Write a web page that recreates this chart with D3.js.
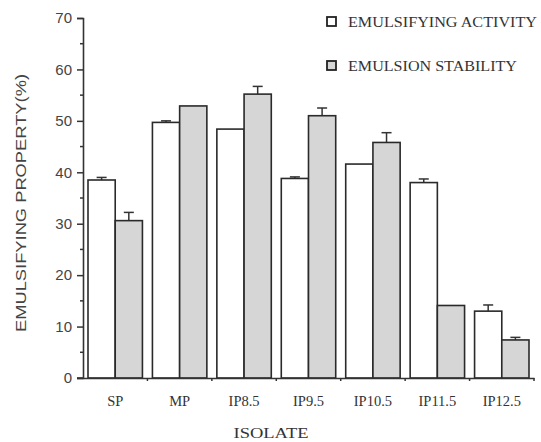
<!DOCTYPE html>
<html>
<head>
<meta charset="utf-8">
<script src="https://cdn.jsdelivr.net/npm/d3@7"></script>
<style>
  body { margin: 0; background: #fff; }
  svg { display: block; }
</style>
</head>
<body>
<svg width="541" height="442"></svg>
<script>
const categories = ["SP", "MP", "IP8.5", "IP9.5", "IP10.5", "IP11.5", "IP12.5"]
const seriesNames = ["EMULSIFYING ACTIVITY", "EMULSION STABILITY"]
const activity = [38.5, 49.7, 48.4, 38.8, 41.6, 38.0, 13.0]
const activityErr = [0.5, 0.3, 0, 0.3, 0, 0.7, 1.2]
const stability = [30.6, 52.9, 55.2, 51.0, 45.8, 14.1, 7.4]
const stabilityErr = [1.6, 0, 1.5, 1.5, 1.9, 0, 0.5]
const yTicks = [0, 10, 20, 30, 40, 50, 60, 70]

const svg = d3.select("svg")
const margin = {top:18, right:7, bottom:64, left:83}
const width = +svg.attr("width") - margin.left - margin.right
const height = +svg.attr("height") - margin.top - margin.bottom

const chart = svg.append("g")
    .attr("transform", `translate(${margin.left},${margin.top})`)

const y = d3.scaleLinear().domain([0,70]).range([height,0])
const x0 = d3.scaleBand().domain(categories).range([0,width]).padding(0)
const x1 = d3.scaleBand().domain(seriesNames).range([5, x0.bandwidth()-5]).padding(0)

const fills = {"EMULSIFYING ACTIVITY":"#ffffff", "EMULSION STABILITY":"#d6d6d6"}

const rows = []
categories.forEach((c,i)=>{
    rows.push({cat:c, s:seriesNames[0], v:activity[i], e:activityErr[i]})
    rows.push({cat:c, s:seriesNames[1], v:stability[i], e:stabilityErr[i]})
})

// error bars (drawn first so bar outline sits on top)
const err = chart.selectAll(".err").data(rows.filter(d=>d.e>0)).enter().append("g")
    .attr("class","err")
    .attr("stroke","#333")
    .attr("stroke-width",1.5)
err.append("line")
    .attr("x1", d=>x0(d.cat)+x1(d.s)+x1.bandwidth()/2)
    .attr("x2", d=>x0(d.cat)+x1(d.s)+x1.bandwidth()/2)
    .attr("y1", d=>y(d.v))
    .attr("y2", d=>y(d.v+d.e))
err.append("line")
    .attr("x1", d=>x0(d.cat)+x1(d.s)+x1.bandwidth()/2-5)
    .attr("x2", d=>x0(d.cat)+x1(d.s)+x1.bandwidth()/2+5)
    .attr("y1", d=>y(d.v+d.e))
    .attr("y2", d=>y(d.v+d.e))

chart.selectAll(".bar").data(rows).enter().append("rect")
    .attr("class","bar")
    .attr("x", d=>x0(d.cat)+x1(d.s))
    .attr("y", d=>y(d.v))
    .attr("width", x1.bandwidth())
    .attr("height", d=>height-y(d.v))
    .attr("fill", d=>fills[d.s])
    .attr("stroke","#2a2a2a")
    .attr("stroke-width",1.6)

// y axis
const yAxis = chart.append("g")
    .call(d3.axisLeft(y).tickValues(yTicks).tickSize(6).tickPadding(5))
yAxis.select(".domain").attr("stroke","#333").attr("stroke-width",1.6)
yAxis.selectAll(".tick line").attr("stroke","#333").attr("stroke-width",1.5)
yAxis.selectAll("text")
    .attr("fill","#444")
    .style("font-family","Liberation Sans, Arial, sans-serif")
    .style("font-size","15px")
yAxis.selectAll(".minor").data(d3.range(5,70,10)).enter().append("line")
    .attr("class","minor")
    .attr("x1",-3).attr("x2",0)
    .attr("y1",d=>y(d)).attr("y2",d=>y(d))
    .attr("stroke","#333").attr("stroke-width",1.5)

// x axis
const xAxis = chart.append("g")
    .attr("transform",`translate(0,${height})`)
    .call(d3.axisBottom(x0).tickSize(0).tickPadding(18))
xAxis.select(".domain").attr("stroke","#333").attr("stroke-width",1.6)
xAxis.selectAll("text")
    .attr("fill","#333")
    .style("font-family","Liberation Serif, Times New Roman, serif")
    .style("font-size","14.5px")
xAxis.selectAll(".sep").data(categories).enter().append("line")
    .attr("class","sep")
    .attr("x1",d=>x0(d)+x0.bandwidth()).attr("x2",d=>x0(d)+x0.bandwidth())
    .attr("y1",0).attr("y2",3)
    .attr("stroke","#333").attr("stroke-width",1.5)
chart.append("line")
    .attr("x1",-6).attr("x2",0)
    .attr("y1",height).attr("y2",height)
    .attr("stroke","#333").attr("stroke-width",1.6)

// axis titles
svg.append("text")
    .attr("transform","translate(26,203) rotate(-90)")
    .attr("text-anchor","middle")
    .attr("fill","#444")
    .attr("textLength",258)
    .attr("lengthAdjust","spacingAndGlyphs")
    .style("font-family","Liberation Sans, Arial, sans-serif")
    .style("font-size","15px")
    .text("EMULSIFYING PROPERTY(%)")
svg.append("text")
    .attr("x",271).attr("y",438)
    .attr("text-anchor","middle")
    .attr("fill","#333")
    .attr("textLength",75)
    .attr("lengthAdjust","spacingAndGlyphs")
    .style("font-family","Liberation Serif, Times New Roman, serif")
    .style("font-size","15px")
    .text("ISOLATE")

// legend
const legendLen = [189, 169]
const legend = svg.append("g").attr("transform","translate(327,17)")
const items = legend.selectAll(".item").data(seriesNames).enter().append("g")
    .attr("class","item")
    .attr("transform",(d,i)=>`translate(0,${i*44})`)
items.append("rect")
    .attr("width",9).attr("height",9)
    .attr("fill",d=>fills[d])
    .attr("stroke","#222").attr("stroke-width",1.8)
items.append("text")
    .attr("x",21).attr("y",10)
    .attr("fill","#333")
    .attr("textLength",(d,i)=>legendLen[i])
    .attr("lengthAdjust","spacingAndGlyphs")
    .style("font-family","Liberation Serif, Times New Roman, serif")
    .style("font-size","14px")
    .text(d=>d)
</script>
</body>
</html>
